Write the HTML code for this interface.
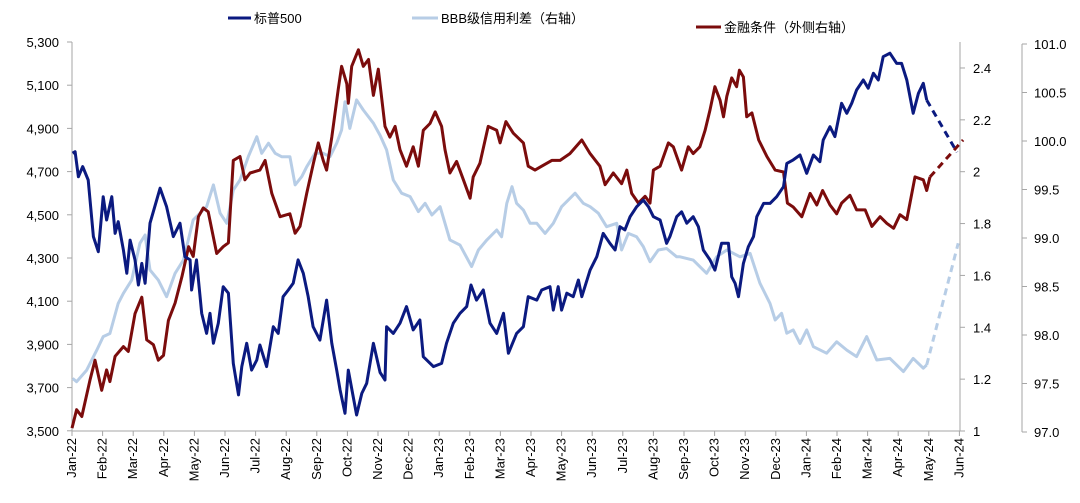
<!DOCTYPE html>
<html><head><meta charset="utf-8">
<style>
html,body{margin:0;padding:0;background:#fff;}
svg{display:block;font-family:"Liberation Sans","Noto Sans CJK SC",sans-serif;}
</style></head>
<body>
<svg id="chart" width="1080" height="503" viewBox="0 0 1080 503" xmlns="http://www.w3.org/2000/svg">
<g id="legend">
  <g>
    <line x1="228" y1="18" x2="251" y2="18" stroke="#0b1a80" stroke-width="3"/>
    <text x="254" y="23" font-size="13" fill="#000">标普500</text>
  </g>
  <g>
    <line x1="412" y1="18" x2="438" y2="18" stroke="#b7cde6" stroke-width="3"/>
    <text x="441" y="23" font-size="13" fill="#000">BBB级信用利差（右轴）</text>
  </g>
  <g>
    <line x1="696" y1="27" x2="721" y2="27" stroke="#7b0c0c" stroke-width="3"/>
    <text x="724" y="32" font-size="13" fill="#000">金融条件（外侧右轴）</text>
  </g>
</g>
<g id="axes"></g>
<g id="series"></g>
</svg>
<script>
const monthLabels=["Jan-22","Feb-22","Mar-22","Apr-22","May-22","Jun-22","Jul-22","Aug-22","Sep-22","Oct-22","Nov-22","Dec-22","Jan-23","Feb-23","Mar-23","Apr-23","May-23","Jun-23","Jul-23","Aug-23","Sep-23","Oct-23","Nov-23","Dec-23","Jan-24","Feb-24","Mar-24","Apr-24","May-24","Jun-24"];
const leftTicks=[3500,3700,3900,4100,4300,4500,4700,4900,5100,5300];
const rightTicks=[1,1.2,1.4,1.6,1.8,2,2.2,2.4];
const outerTicks=[97.0,97.5,98.0,98.5,99.0,99.5,100.0,100.5,101.0];
// time in months since Jan-22
const spxT=[0.02,0.1,0.21,0.35,0.53,0.70,0.86,1.02,1.13,1.30,1.41,1.51,1.68,1.79,1.90,2.06,2.17,2.28,2.39,2.55,2.88,3.09,3.31,3.53,3.69,3.86,3.91,4.07,4.24,4.40,4.51,4.62,4.78,4.94,5.11,5.27,5.44,5.55,5.71,5.87,6.04,6.14,6.36,6.58,6.74,6.90,7.07,7.23,7.39,7.56,7.72,7.88,8.10,8.32,8.49,8.65,8.76,8.92,9.03,9.19,9.30,9.47,9.63,9.85,10.07,10.23,10.28,10.50,10.72,10.93,11.15,11.37,11.48,11.81,12.08,12.24,12.46,12.68,12.90,13.04,13.22,13.44,13.66,13.88,14.10,14.26,14.53,14.75,14.91,15.19,15.35,15.62,15.73,15.89,16.00,16.17,16.38,16.55,16.66,16.93,17.15,17.36,17.58,17.75,17.91,18.07,18.24,18.45,18.67,18.84,19.00,19.22,19.43,19.54,19.76,19.92,20.09,20.30,20.47,20.63,20.85,21.01,21.23,21.45,21.56,21.67,21.78,21.94,22.10,22.27,22.38,22.60,22.81,23.03,23.25,23.36,23.57,23.79,24.01,24.23,24.44,24.55,24.77,24.93,25.15,25.32,25.48,25.64,25.86,26.02,26.19,26.35,26.51,26.73,26.95,27.11,27.28,27.49,27.66,27.82,27.93];
const spxV=[4785,4792,4676,4723,4661,4399,4329,4584,4476,4584,4414,4468,4337,4229,4383,4291,4175,4275,4183,4461,4623,4537,4399,4461,4306,4291,4152,4291,4044,3951,4044,3905,3998,4167,4137,3812,3666,3797,3905,3781,3828,3897,3797,3982,3951,4121,4152,4183,4291,4229,4121,3982,3920,4105,3905,3781,3689,3581,3781,3658,3573,3673,3720,3905,3770,3735,3982,3951,3998,4075,3967,4013,3843,3797,3812,3905,3998,4044,4075,4175,4105,4152,3998,3951,4044,3859,3951,3982,4121,4105,4152,4167,4059,4167,4059,4137,4121,4198,4121,4244,4306,4414,4368,4337,4445,4430,4491,4537,4568,4537,4491,4476,4368,4399,4491,4514,4461,4491,4445,4337,4291,4244,4368,4368,4213,4183,4121,4275,4352,4399,4491,4553,4553,4584,4630,4738,4754,4777,4692,4777,4746,4846,4908,4862,5016,4970,5016,5078,5124,5086,5155,5124,5232,5248,5201,5201,5124,4970,5062,5109,5031];
const spxFcT=[27.93,28.92];
const spxFcV=[5031,4790];
const bbbT=[0.02,0.15,0.48,0.81,1.02,1.24,1.51,1.68,1.95,2.22,2.39,2.55,2.82,3.09,3.37,3.64,3.96,4.40,4.62,4.84,5.06,5.27,5.49,5.76,6.04,6.20,6.42,6.64,6.85,7.12,7.29,7.51,7.67,7.94,8.21,8.43,8.65,8.81,8.92,9.08,9.30,9.52,9.85,10.07,10.28,10.50,10.77,11.05,11.32,11.54,11.76,12.03,12.35,12.68,13.06,13.28,13.56,13.88,14.04,14.21,14.38,14.53,14.75,14.97,15.19,15.46,15.73,16.00,16.44,16.71,16.93,17.20,17.47,17.80,17.96,18.18,18.45,18.67,18.89,19.16,19.43,19.76,19.87,20.30,20.74,21.07,21.40,21.83,22.16,22.48,22.81,22.98,23.19,23.36,23.57,23.79,24.01,24.23,24.66,24.99,25.32,25.64,25.97,26.30,26.73,27.17,27.49,27.82,27.93];
const bbbV=[1.203,1.19,1.235,1.312,1.364,1.376,1.492,1.531,1.582,1.724,1.756,1.621,1.582,1.518,1.608,1.659,1.814,1.865,1.949,1.840,1.801,1.929,1.968,2.058,2.135,2.071,2.110,2.071,2.058,2.058,1.949,1.981,2.019,2.071,2.071,2.058,2.110,2.161,2.270,2.167,2.277,2.238,2.187,2.14,2.084,1.968,1.917,1.904,1.846,1.878,1.833,1.865,1.737,1.717,1.634,1.698,1.737,1.775,1.749,1.878,1.942,1.878,1.852,1.801,1.801,1.762,1.801,1.865,1.917,1.878,1.865,1.840,1.788,1.801,1.698,1.762,1.749,1.711,1.653,1.698,1.704,1.672,1.672,1.659,1.608,1.672,1.698,1.672,1.685,1.570,1.492,1.428,1.454,1.377,1.390,1.338,1.390,1.325,1.300,1.344,1.312,1.287,1.364,1.274,1.280,1.229,1.280,1.242,1.255];
const bbbFcT=[27.93,28.96];
const bbbFcV=[1.255,1.724];
const fciT=[0.0,0.15,0.32,0.59,0.75,0.97,1.13,1.24,1.41,1.68,1.84,2.06,2.28,2.44,2.66,2.82,2.99,3.15,3.37,3.59,3.81,3.96,4.13,4.29,4.45,4.73,4.94,5.11,5.27,5.49,5.65,5.82,6.14,6.31,6.53,6.80,7.12,7.29,7.45,7.67,7.89,8.05,8.21,8.32,8.49,8.70,8.81,8.98,9.03,9.14,9.36,9.52,9.69,9.85,10.01,10.23,10.39,10.56,10.72,10.93,11.15,11.32,11.48,11.70,11.87,12.08,12.19,12.35,12.57,12.79,13.01,13.11,13.33,13.60,13.88,13.99,14.18,14.42,14.75,14.91,15.13,15.35,15.68,15.95,16.27,16.66,16.93,17.25,17.42,17.69,17.96,18.13,18.29,18.51,18.73,18.89,19.00,19.22,19.49,19.65,19.92,20.14,20.30,20.52,20.69,20.85,21.01,21.18,21.29,21.40,21.56,21.72,21.81,21.94,22.05,22.22,22.44,22.71,22.98,23.25,23.38,23.57,23.85,24.12,24.34,24.53,24.77,24.99,25.15,25.42,25.64,25.92,26.14,26.41,26.63,26.85,27.06,27.28,27.55,27.82,27.93,28.04];
const fciV=[97.04,97.23,97.16,97.54,97.74,97.43,97.64,97.52,97.78,97.88,97.83,98.22,98.39,97.95,97.90,97.74,97.79,98.15,98.33,98.60,98.91,98.81,99.22,99.31,99.27,98.84,98.91,98.95,99.80,99.84,99.60,99.67,99.70,99.80,99.46,99.22,99.25,99.05,99.12,99.46,99.77,99.98,99.80,99.70,100.04,100.53,100.77,100.59,100.39,100.77,100.94,100.77,100.84,100.47,100.74,100.15,100.04,100.15,99.91,99.74,99.94,99.74,100.11,100.18,100.30,100.15,99.91,99.67,99.79,99.60,99.41,99.63,99.77,100.15,100.11,99.98,100.20,100.08,99.98,99.74,99.70,99.74,99.80,99.80,99.87,100.01,99.87,99.74,99.55,99.67,99.56,99.70,99.46,99.36,99.43,99.36,99.70,99.74,99.98,99.94,99.70,99.94,99.87,99.94,100.11,100.32,100.56,100.42,100.25,100.46,100.65,100.56,100.73,100.66,100.25,100.29,100.01,99.84,99.70,99.68,99.36,99.32,99.22,99.46,99.34,99.49,99.34,99.25,99.36,99.44,99.29,99.29,99.12,99.22,99.15,99.10,99.24,99.19,99.63,99.60,99.49,99.63];
const fciFcT=[28.04,29.12];
const fciFcV=[99.63,100.01];

const X0=72, MW=30.6, YB=431;
const xS=t=>X0+t*MW;
const yL=v=>42+(5300-v)/100*21.6;
const yR=v=>431-(v-1)*259.3;
const yO=v=>432-(v-97)*97;
const NS="http://www.w3.org/2000/svg";
const axes=document.getElementById('axes'), series=document.getElementById('series');
function mk(tag,attrs,parent){const e=document.createElementNS(NS,tag);for(const k in attrs)e.setAttribute(k,attrs[k]);parent.appendChild(e);return e;}
const AX="#a6a6a6";
// left axis
let el=mk('line',{x1:X0,y1:42,x2:X0,y2:YB,stroke:AX,'stroke-width':1},axes);


leftTicks.forEach(v=>{
  const y=yL(v);
  const tk=mk('line',{x1:X0-5,y1:y,x2:X0,y2:y,stroke:AX},axes);
  
  
  const tx=mk('text',{x:59,y:y+5,'text-anchor':'end','font-size':13,fill:'#000'},axes);
  tx.textContent=v.toLocaleString('en-US');
  
  
});
// bottom axis
el=mk('line',{x1:X0,y1:YB,x2:961,y2:YB,stroke:AX},axes);


monthLabels.forEach((m,i)=>{
  const x=xS(i);
  const tk=mk('line',{x1:x,y1:YB,x2:x,y2:YB+5,stroke:AX},axes);
  
  
  const tx=mk('text',{x:0,y:0,'text-anchor':'end','font-size':13,fill:'#000',transform:`translate(${x+4},438) rotate(-90)`},axes);
  tx.textContent=m;
  
  
});
// right inner axis
el=mk('line',{x1:960,y1:42,x2:960,y2:YB,stroke:AX},axes);


rightTicks.forEach(v=>{
  const y=yR(v);
  const tk=mk('line',{x1:960,y1:y,x2:965,y2:y,stroke:AX},axes);
  
  
  const tx=mk('text',{x:973,y:y+5,'font-size':13,fill:'#000'},axes);
  tx.textContent=String(v);
  
  
});
// outer right axis
el=mk('line',{x1:1022,y1:44,x2:1022,y2:432,stroke:AX},axes);


outerTicks.forEach(v=>{
  const y=yO(v);
  const tk=mk('line',{x1:1022,y1:y,x2:1027,y2:y,stroke:AX},axes);
  
  
  const tx=mk('text',{x:1034,y:y+5,'font-size':13,fill:'#000'},axes);
  tx.textContent=v.toFixed(1);
  
  
});
function line(ts,vs,yf,color,dash,name){
  const d=ts.map((t,i)=>(i?'L':'M')+xS(t).toFixed(1)+','+yf(vs[i]).toFixed(1)).join('');
  const p=mk('path',{d:d,fill:'none',stroke:color,'stroke-width':3,'stroke-linejoin':'round'},series);
  if(dash)p.setAttribute('stroke-dasharray','7,5');
  
  
}
line(bbbT,bbbV,yR,'#b7cde6',false,'bbb-spread-line');
line(bbbFcT,bbbFcV,yR,'#b7cde6',true,'bbb-spread-forecast-line');
line(fciT,fciV,yO,'#7b0c0c',false,'fci-line');
line(fciFcT,fciFcV,yO,'#7b0c0c',true,'fci-forecast-line');
line(spxT,spxV,yL,'#0b1a80',false,'spx-line');
line(spxFcT,spxFcV,yL,'#0b1a80',true,'spx-forecast-line');
</script>
</body></html>
